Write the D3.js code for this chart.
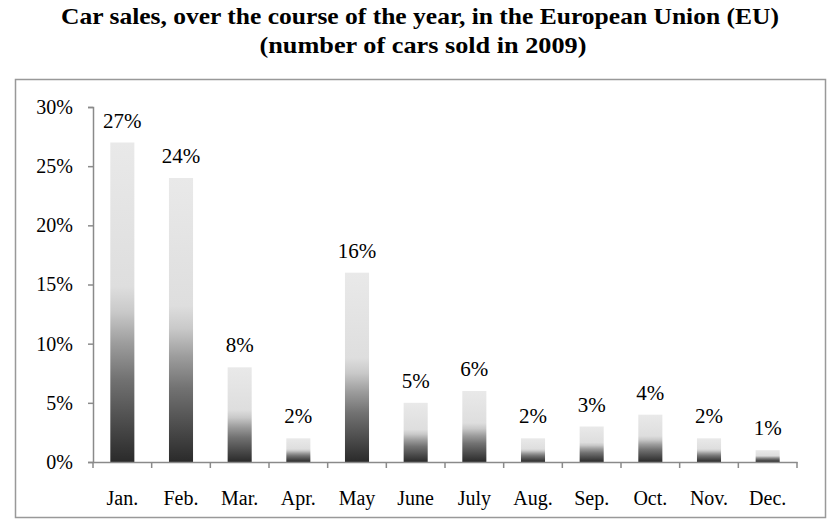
<!DOCTYPE html>
<html>
<head>
<meta charset="utf-8">
<script src="https://cdn.jsdelivr.net/npm/d3@7"></script>
<style>
  body { margin: 0; background: #fff; }
  text { font-family: 'Liberation Serif', 'Times New Roman', serif; }
</style>
</head>
<body>
<div id="chart"></div>
<script>
const months = ['Jan.', 'Feb.', 'Mar.', 'Apr.', 'May', 'June', 'July', 'Aug.', 'Sep.', 'Oct.', 'Nov.', 'Dec.']
const sales = [27, 24, 8, 2, 16, 5, 6, 2, 3, 4, 2, 1]
const yTicks = [0, 5, 10, 15, 20, 25, 30]
const titleLines = ['Car sales, over the course of the year, in the European Union (EU)', '(number of cars sold in 2009)']

const width = 840
const height = 530
const margin = { top: 107, left: 93, right: 43, bottom: 68 }

const svg = d3.select('#chart')
  .append('svg')
  .attr('width', width)
  .attr('height', height)

// gradient for bars: dark at bottom, light at top
const grad = svg.append('defs')
  .append('linearGradient')
  .attr('id', 'barGrad')
  .attr('x1', 0).attr('y1', 0).attr('x2', 0).attr('y2', 1)

const stops = [
  [0, '#e9e9e9'], [0.45, '#dedede'], [0.53, '#c9c9c9'], [0.63, '#9c9c9c'],
  [0.74, '#727272'], [0.88, '#4b4b4b'], [1, '#2a2a2a']
]
grad.selectAll('stop')
  .data(stops)
  .enter()
  .append('stop')
  .attr('offset', d => d[0])
  .attr('stop-color', d => d[1])

// outer frame
svg.append('rect')
  .attr('x', 15.5).attr('y', 79.5)
  .attr('width', 810).attr('height', 438)
  .attr('fill', 'none')
  .attr('stroke', '#999')
  .attr('stroke-width', 1.5)

// title (widths stretched to match the original)
const titleWidths = [718, 327]
svg.selectAll('.title')
  .data(titleLines)
  .enter()
  .append('text')
  .attr('class', 'title')
  .attr('x', (d, i) => i === 0 ? 420 : 423)
  .attr('y', (d, i) => 24 + i * 29)
  .attr('text-anchor', 'middle')
  .attr('font-size', 23)
  .attr('font-weight', 'bold')
  .attr('textLength', (d, i) => titleWidths[i])
  .attr('lengthAdjust', 'spacingAndGlyphs')
  .text(d => d)

const x = d3.scaleBand()
  .domain(months)
  .range([margin.left, width - margin.right])

const y = d3.scaleLinear()
  .domain([0, 30])
  .range([height - margin.bottom, margin.top])

const barW = x.bandwidth() * 0.41

svg.selectAll('.bar')
  .data(sales)
  .enter()
  .append('rect')
  .attr('class', 'bar')
  .attr('x', (d, i) => x(months[i]) + (x.bandwidth() - barW) / 2)
  .attr('y', d => y(d))
  .attr('width', barW)
  .attr('height', d => y(0) - y(d))
  .attr('fill', 'url(#barGrad)')

svg.selectAll('.label')
  .data(sales)
  .enter()
  .append('text')
  .attr('class', 'label')
  .attr('x', (d, i) => x(months[i]) + x.bandwidth() / 2)
  .attr('y', d => y(d) - 15)
  .attr('text-anchor', 'middle')
  .attr('font-size', 21)
  .text(d => d + '%')

// y axis
const yAxis = svg.append('g')
  .attr('transform', `translate(${margin.left},0)`)
  .call(d3.axisLeft(y).tickValues(yTicks).tickFormat(d => d + '%').tickSizeOuter(5).tickSize(5).tickPadding(15))
yAxis.selectAll('text').attr('font-size', 20).attr('fill', '#000').style('font-family', "'Liberation Serif', serif")

// x axis
const xAxis = svg.append('g')
  .attr('transform', `translate(0,${y(0)})`)
  .call(d3.axisBottom(x).tickSize(0).tickPadding(29))
xAxis.selectAll('text').attr('font-size', 20).attr('fill', '#000').style('font-family', "'Liberation Serif', serif")

// category separator ticks
xAxis.selectAll('.sep')
  .data(d3.range(months.length + 1))
  .enter()
  .append('line')
  .attr('class', 'sep')
  .attr('x1', i => margin.left + i * x.step())
  .attr('x2', i => margin.left + i * x.step())
  .attr('y1', 0).attr('y2', 6)
  .attr('stroke', '#8a8a8a')
  .attr('stroke-width', 1.5)

svg.selectAll('.domain, .tick line')
  .attr('stroke', '#8a8a8a')
  .attr('stroke-width', 1.5)
</script>
</body>
</html>
